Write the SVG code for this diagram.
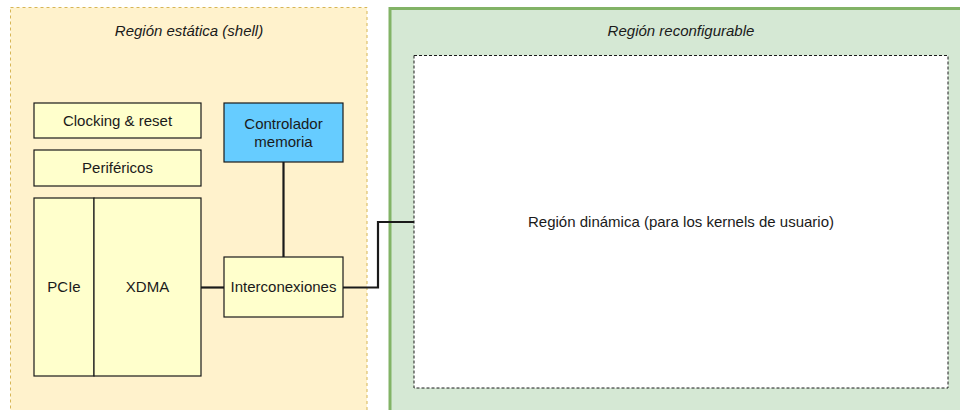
<svg xmlns="http://www.w3.org/2000/svg" width="960" height="410" viewBox="0 0 960 410">
  <style>
    text { font-family: "Liberation Sans", Arial, sans-serif; font-size: 15px; fill: #1a1a1a; }
    .title { font-style: italic; }
    .box { fill: #ffffcc; stroke: #1a1a1a; stroke-width: 1.2; }
    .mem { fill: #66ccff; stroke: #1a1a1a; stroke-width: 1.2; }
    .wire { fill: none; stroke: #1a1a1a; stroke-width: 2.2; }
  </style>
  <rect width="960" height="410" fill="#ffffff"/>

  <!-- static shell region -->
  <g id="static-region">
    <rect x="10.5" y="7.5" width="356.5" height="420" fill="#fff2cc" stroke="#d6b656" stroke-dasharray="3 3"/>
    <text class="title" x="189" y="36" text-anchor="middle">Región estática (shell)</text>
  </g>

  <!-- reconfigurable region -->
  <g id="reconfig-region">
    <rect x="390" y="8.5" width="600" height="420" fill="#d5e8d4" stroke="#82b366" stroke-width="3"/>
    <text class="title" x="681" y="36" text-anchor="middle">Región reconfigurable</text>
  </g>

  <g id="dynamic-region">
    <rect x="414" y="55.5" width="534" height="332.5" fill="#ffffff" stroke="#1a1a1a" stroke-dasharray="3 2"/>
    <text x="681" y="227" text-anchor="middle">Región dinámica (para los kernels de usuario)</text>
  </g>

  <g id="clocking">
    <rect class="box" x="34" y="103" width="167" height="35"/>
    <text x="117.5" y="126" text-anchor="middle">Clocking &amp; reset</text>
  </g>

  <g id="perifericos">
    <rect class="box" x="34" y="150" width="167" height="36"/>
    <text x="117.5" y="173" text-anchor="middle">Periféricos</text>
  </g>

  <g id="pcie">
    <rect class="box" x="34" y="198" width="60" height="178"/>
    <text x="64" y="292" text-anchor="middle">PCIe</text>
  </g>

  <g id="xdma">
    <rect class="box" x="94" y="198" width="107" height="178"/>
    <text x="147.5" y="292" text-anchor="middle">XDMA</text>
  </g>

  <g id="controlador">
    <rect class="mem" x="224" y="103" width="119" height="59"/>
    <text x="283.5" y="129" text-anchor="middle">Controlador</text>
    <text x="283.5" y="147" text-anchor="middle">memoria</text>
  </g>

  <g id="interconexiones">
    <rect class="box" x="224" y="257" width="119" height="60"/>
    <text x="283.5" y="292" text-anchor="middle">Interconexiones</text>
  </g>

  <!-- links -->
  <g id="connectors">
    <path class="wire" d="M283.5 162 V257"/>
    <path class="wire" d="M201 287.5 H224"/>
    <path class="wire" d="M343 287.5 H378 V222 H414"/>
  </g>
</svg>
